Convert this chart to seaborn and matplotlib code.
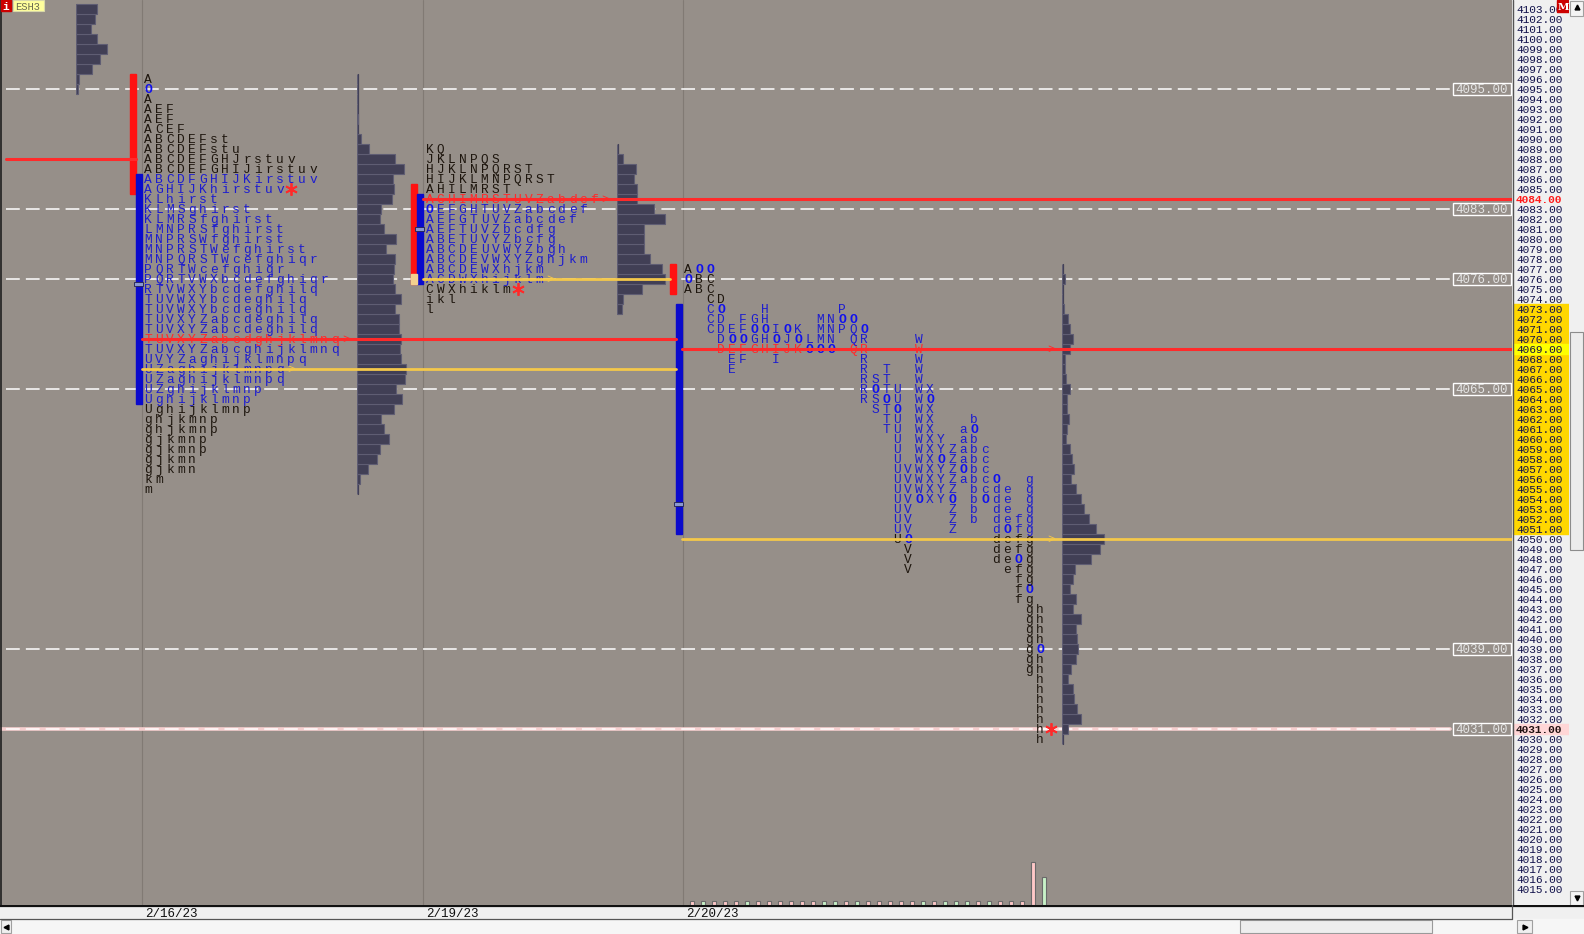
import matplotlib
matplotlib.use("Agg")
import matplotlib.pyplot as plt
import seaborn as sns
import pandas as pd
from matplotlib.patches import Rectangle

sns.set_style("white")
plt.rcParams['font.family'] = ['Liberation Mono', 'DejaVu Sans']

### data
dates = ['2/16/23', '2/19/23', '2/20/23']

# volume profile left over from the previous session (top left), 4103 down
prior_vol_top = 4103
prior_vol = [21, 19, 15, 21, 31, 24, 16, 3, 2]
prior_poc = 4088

# 2/16/23 TPO rows, 4096 down to 4055
p1_top = 4096
p1_rows = ['A', 'O', 'A', 'AEF', 'AEF', 'ACEF', 'ABCDEFst', 'ABCDEFstu',
           'ABCDEFGHJrstuv', 'ABCDEFGHIJirstuv', 'ABCDFGHIJKirstuv',
           'AGHIJKhirstuv', 'KLhirst', 'KLMSghirst', 'KLMRSfghirst',
           'LMNPRSfghirst', 'MNPRSWfghirst', 'MNPRSTWefghirst',
           'MNPQRSTWcefghiqr', 'PQRTWcefghiqr', 'PQRTVWXbcdefghiqr',
           'RTVWXYbcdefghilq', 'TUVWXYbcdeghilq', 'TUVWXYbcdeghilq',
           'TUVXYZabcdeghilq', 'TUVXYZabcdeghilq', 'TUVXYZabcdghjklmnq',
           'TUVXYZabcghijklmnq', 'UVYZaghijklmnpq', 'UZaghijklmnpq',
           'UZaghijklmnpq', 'UZghijklmnp', 'Ughijklmnp', 'Ughijklmnp',
           'ghjkmnp', 'ghjkmnp', 'gjkmnp', 'gjkmnp', 'gjkmn', 'gjkmn', 'km', 'm']
p1_ib = (4096, 4085)
p1_va = (4086, 4064)
p1_poc = 4070
p1_vpoc = 4067
p1_close = 4085
p1_vol = [0, 0, 0, 0, 1, 0, 4, 12, 38, 47, 36, 37, 35, 24, 23, 27, 39, 29, 38, 37,
          36, 38, 44, 38, 42, 42, 44, 43, 44, 49, 48, 39, 45, 37, 24, 27, 32, 23,
          20, 11, 3, 0]

# 2/19/23 TPO rows, 4089 down to 4073
p2_top = 4089
p2_rows = ['KQ', 'JKLNPQS', 'HJKLNPQRST', 'HIJKLMNPQRST', 'AHILMRST',
           'ACHIMRSTUVZabdef', 'OEFGHTUVZabcdef', 'AEFGTUVZabcdef',
           'AEFTUVZbcdfg', 'ABETUVYZbcfg', 'ABCDEUVWYZbgh', 'ABCDEVWXYZghjkm',
           'ABCDEWXhjkm', 'ACDWXhijklm', 'CWXhiklm', 'ikl', 'l']
p2_ib = (4085, 4076)
p2_va = (4084, 4076)
p2_poc = 4084
p2_vpoc = 4076
p2_close = 4075
p2_vol = [0, 6, 19, 17, 20, 20, 37, 48, 27, 27, 27, 33, 45, 48, 25, 6, 5]

# 2/20/23 split profile: one column per period (high, low, open)
p3_letters = ['A', 'B', 'C', 'D', 'E', 'F', 'G', 'H', 'I', 'J', 'K', 'L', 'M', 'N',
              'P', 'Q', 'R', 'S', 'T', 'U', 'V', 'W', 'X', 'Y', 'Z',
              'a', 'b', 'c', 'd', 'e', 'f', 'g', 'h']
p3_high = [4077, 4077, 4077, 4074, 4071, 4072, 4072, 4073, 4071, 4071, 4071, 4070,
           4072, 4072, 4073, 4072, 4071, 4066, 4067, 4065, 4057, 4070, 4065, 4060,
           4059, 4061, 4062, 4059, 4056, 4055, 4052, 4056, 4043]
p3_low = [4075, 4075, 4071, 4069, 4067, 4068, 4069, 4069, 4068, 4069, 4069, 4069,
          4069, 4069, 4071, 4069, 4064, 4063, 4061, 4050, 4047, 4054, 4054, 4054,
          4051, 4056, 4052, 4054, 4048, 4047, 4044, 4037, 4030]
p3_open = [4076, 4077, 4077, 4073, 4070, 4070, 4071, 4071, 4070, 4071, 4070, 4069,
           4069, 4069, 4072, 4072, 4071, 4065, 4064, 4063, 4050, 4054, 4064, 4058,
           4054, 4057, 4061, 4054, 4056, 4051, 4048, 4045, 4039]
p3_ib = (4077, 4075)
p3_va = (4073, 4051)
p3_poc = 4069
p3_vpoc = 4050
p3_close = 4031
p3_vol_top = 4077
p3_vol = [0, 3, 0, 0, 2, 6, 8, 11, 8, 3, 3, 4, 8, 5, 5, 7, 5, 4, 8, 10, 12, 9, 14,
          19, 22, 27, 34, 42, 38, 29, 13, 11, 8, 14, 11, 19, 14, 15, 16, 14, 9, 6,
          11, 12, 15, 19, 6, 0]

# per-period volume of 2/20/23 and whether the period closed up
period_vol = [4, 4, 4, 4, 4, 4, 4, 4, 4, 4, 4, 4, 4, 4, 4, 4, 4, 4, 4, 4, 4, 4,
              4, 4, 4, 4, 4, 4, 4, 4, 4, 43, 28]
period_up = [0, 1, 0, 0, 0, 1, 0, 0, 0, 0, 0, 0, 1, 1, 0, 1, 0, 0, 0, 0, 0, 1,
             0, 1, 1, 1, 0, 1, 0, 0, 0, 0, 1]

ref_levels = [4095, 4083, 4076, 4065, 4039, 4031]
axis_prices = list(range(4015, 4104))

### style
BG = '#968f89'
HIST_FC = '#413f55'
HIST_EC = '#5f5d73'
DARK_TXT = '#1e160e'
BLUE_TXT = '#1c1cd0'
OPEN_BLUE = '#1010ee'
RED = '#ff2a2a'
YEL = '#f4c84a'
LET_FS = 9.3

W, H = 1584, 934
YHI = 4103.93
YLO = YHI - 90.5


def frame(x0, y0, x1, y1):
    return [x0 / W, 1 - y1 / H, (x1 - x0) / W, (y1 - y0) / H]


fig = plt.figure(figsize=(W / 100, H / 100), dpi=100, facecolor='#f0f0f0')
ax = fig.add_axes(frame(0, 0, 1512, 905))
ax.set_facecolor(BG)
ax.set_xlim(0, 1512)
ax.set_ylim(YLO, YHI)
ax.set_xticks([])
ax.set_yticks([])
for s in ax.spines.values():
    s.set_visible(False)
ax.axvline(0.5, color='#202020', lw=1.2)

# day separators
for xs in [142, 423, 683]:
    ax.axvline(xs, color='#817a74', lw=0.8, zorder=0.5)

# reference levels with boxed labels
for lv in ref_levels:
    if lv == p3_close:
        ax.plot([0, 1450], [lv, lv], color='#f6cfcf', lw=2.6, zorder=1)
    ax.plot([6, 1450], [lv, lv], color='white', lw=1.1, ls=(0, (9, 4)), zorder=1.1)
    ax.add_patch(Rectangle((1452.5, lv - 0.6), 58, 1.2, fill=False, ec='white', lw=1, zorder=2))
    ax.text(1481.5, lv - 0.38, f'{lv}.00', color='#e4e4e4', fontsize=9, ha='center',
            va='baseline', zorder=2)


def tpo_color(p, va, poc):
    if p == poc:
        return RED
    if va[1] <= p <= va[0]:
        return BLUE_TXT
    return DARK_TXT


def put_letter(x, p, ch, color):
    if ch == 'O':
        ax.text(x, p - 0.41, 'O', color=OPEN_BLUE, fontsize=LET_FS, fontweight='bold',
                ha='center', va='baseline', zorder=3)
    else:
        ax.text(x, p - 0.41, ch, color=color, fontsize=LET_FS, ha='center',
                va='baseline', zorder=3)


def put_marks(x, p, poc, vpoc, close):
    if p == poc:
        ax.text(x, p - 0.41, '>', color=RED, fontsize=LET_FS, ha='center', va='baseline', zorder=7)
    if p == vpoc:
        ax.text(x, p - 0.41, '>', color=YEL, fontsize=LET_FS, ha='center', va='baseline', zorder=7)
    if p == close:
        ax.plot(x, p, marker=(6, 2, 0), ms=9, mew=1.3, color=RED, zorder=7)


def row_profile(x_first, top, rows, va, poc, vpoc, close):
    for i, s in enumerate(rows):
        p = top - i
        for j, ch in enumerate(s):
            put_letter(x_first + 11 * j, p, ch, tpo_color(p, va, poc))
        put_marks(x_first + 11 * len(s), p, poc, vpoc, close)


def side_bars(x_ib, ib, va, vpoc, mid):
    ax.add_patch(Rectangle((x_ib, ib[1] - 0.5), 6, ib[0] - ib[1] + 1, color='#ff1212', zorder=4))
    if ib[1] <= vpoc <= ib[0]:
        ax.add_patch(Rectangle((x_ib, vpoc - 0.5), 6, 1, color='#f3d08f', zorder=4.1))
    ax.add_patch(Rectangle((x_ib + 6, va[1] - 0.5), 6, va[0] - va[1] + 1, color='#0a0acc', zorder=4))
    ax.add_patch(Rectangle((x_ib + 4, mid - 0.18), 8.5, 0.36, fc='#8a98d0', ec='#202050',
                           lw=0.6, zorder=4.2))


def vol_profile(x0, top, vols):
    prices = [top - i for i in range(len(vols))]
    df = pd.DataFrame({'price': prices, 'vol': vols})
    ins = ax.inset_axes([x0, YLO, 100, YHI - YLO], transform=ax.transData, zorder=4)
    sns.histplot(data=df, y='price', weights='vol', discrete=True, ax=ins,
                 color=HIST_FC, edgecolor=HIST_EC, linewidth=0.8, alpha=1)
    ins.set_xlim(0, 100)
    ins.set_ylim(YLO, YHI)
    ins.axis('off')
    ax.plot([x0 + 0.5, x0 + 0.5], [prices[-1] - 0.5, top + 0.5], color=HIST_FC, lw=0.9, zorder=4)


# profile 1 (2/16/23)
row_profile(148, p1_top, p1_rows, p1_va, p1_poc, p1_vpoc, p1_close)
side_bars(130, p1_ib, p1_va, p1_vpoc, (p1_top + p1_top - len(p1_rows) + 1) / 2)
vol_profile(76, prior_vol_top, prior_vol)
vol_profile(357, p1_top, p1_vol)
ax.plot([6, 136], [prior_poc, prior_poc], color=RED, lw=2.2, zorder=6)
ax.plot([142, 676], [p1_poc, p1_poc], color=RED, lw=2.2, zorder=6)
ax.plot([142, 676], [p1_vpoc, p1_vpoc], color=YEL, lw=2.0, zorder=6)

# profile 2 (2/19/23)
row_profile(429.5, p2_top, p2_rows, p2_va, p2_poc, p2_vpoc, p2_close)
side_bars(411, p2_ib, p2_va, p2_vpoc, (p2_top + p2_top - len(p2_rows) + 1) / 2)
vol_profile(617, p2_top, p2_vol)
ax.plot([423, 1512], [p2_poc, p2_poc], color=RED, lw=2.2, zorder=6)
ax.plot([423, 670], [p2_vpoc, p2_vpoc], color=YEL, lw=2.0, zorder=6)

# profile 3 (2/20/23)
for k, (ch, hi, lo, op) in enumerate(zip(p3_letters, p3_high, p3_low, p3_open)):
    for p in range(lo, hi + 1):
        put_letter(688 + 11 * k, p, 'O' if p == op else ch, tpo_color(p, p3_va, p3_poc))
x_end = 688 + 11 * len(p3_letters)
for p in [p3_poc, p3_vpoc, p3_close]:
    put_marks(x_end, p, p3_poc, p3_vpoc, p3_close)
side_bars(670, p3_ib, p3_va, p3_vpoc, (max(p3_high) + min(p3_low)) / 2)
vol_profile(1062, p3_vol_top, p3_vol)
ax.plot([682, 1512], [p3_poc, p3_poc], color=RED, lw=2.2, zorder=6)
ax.plot([682, 1512], [p3_vpoc, p3_vpoc], color=YEL, lw=2.0, zorder=6)

# period volume bars at the bottom
for k, (v, up) in enumerate(zip(period_vol, period_up)):
    ax.bar(692 + 11 * k, v / 10, bottom=YLO, width=3.2,
           color='#c8f2c8' if up else '#ffc8c8', edgecolor='#6a6a6a', lw=0.8, zorder=3)

# top-left symbol tags
ax.add_patch(Rectangle((1, YHI - 1.1), 10, 1.1, color='#cc0000', zorder=8))
ax.text(6, YHI - 0.95, 'i', color='white', fontsize=8, fontweight='bold', ha='center',
        va='baseline', zorder=9)
ax.add_patch(Rectangle((13, YHI - 1.1), 30.5, 1.1, fc='#ffff9c', ec='#d8d8a8', lw=0.8, zorder=8))
ax.text(28, YHI - 0.95, 'ESH3', color='#6a6a50', fontsize=7.5, ha='center', va='baseline', zorder=9)

# price axis panel
axr = fig.add_axes(frame(1512, 0, 1569, 905))
axr.set_facecolor('#f0f0f0')
axr.set_xlim(1512, 1569)
axr.set_ylim(YLO, YHI)
axr.set_xticks([])
axr.set_yticks([])
for s in axr.spines.values():
    s.set_visible(False)
axr.axvline(1512.5, color='#555555', lw=1)
axr.axhspan(p3_va[1] - 0.5, p3_va[0] + 0.5, xmin=0.02, color='#ffd700')
axr.axhspan(p3_poc - 0.5, p3_poc + 0.5, xmin=0.02, color='#ffff00')
axr.axhspan(p3_close - 0.5, p3_close + 0.5, xmin=0.02, color='#ffd6d6')
for p in axis_prices:
    if p == p2_poc:
        c, wt = '#ff1a1a', 'bold'
    elif p == p3_close:
        c, wt = '#201010', 'bold'
    else:
        c, wt = '#10104a', 'normal'
    axr.text(1516, p - 0.34, f'{p}.00', color=c, fontweight=wt, fontsize=8,
             ha='left', va='baseline')
axr.add_patch(Rectangle((1557, YHI - 1.2), 12, 1.2, color='#cc0000', zorder=5))
axr.text(1563, YHI - 1.0, 'M', color='white', fontsize=7.5, fontweight='bold',
         family='DejaVu Serif', ha='center', va='baseline', zorder=6)

# vertical scrollbar
axs = fig.add_axes(frame(1569, 0, 1584, 905))
axs.set_facecolor('#f0f0f0')
axs.set_xlim(1569, 1584)
axs.set_ylim(905, 0)
axs.axis('off')
axs.add_patch(Rectangle((1569, 0), 15, 905, color='#f0f0f0'))
axs.add_patch(Rectangle((1570, 0.5), 13, 15, fc='#f4f4f4', ec='#a0a0a0', lw=0.8))
axs.add_patch(Rectangle((1570, 332), 13, 218, fc='#ececec', ec='#8c8c8c', lw=0.8))
axs.add_patch(Rectangle((1570, 891), 13, 13.5, fc='#f4f4f4', ec='#a0a0a0', lw=0.8))
axs.plot(1576.5, 7, marker='^', ms=3.5, color='black')
axs.plot(1576.5, 898, marker='v', ms=3.5, color='black')

# date strip and bottom scrollbar
axb = fig.add_axes(frame(0, 905, 1584, 934))
axb.set_xlim(0, 1584)
axb.set_ylim(934, 905)
axb.axis('off')
axb.add_patch(Rectangle((0, 905), 1584, 29, color='#f0f0f0'))
axb.add_patch(Rectangle((0, 919), 1584, 15, color='#f6f6f6'))
axb.plot([0, 1584], [905.8, 905.8], color='#111111', lw=1.6)
axb.plot([0, 1512], [919, 919], color='#555555', lw=0.9)
axb.plot([1512, 1512], [905, 919], color='#555555', lw=0.9)
for xd, d in zip([145, 426, 686], dates):
    axb.text(xd, 917, d, color='#101010', fontsize=9, ha='left', va='baseline')
axb.add_patch(Rectangle((0.5, 920), 10, 13, fc='#f0f0f0', ec='#a0a0a0', lw=0.8))
axb.plot(5.5, 926.5, marker='<', ms=3.5, color='black')
axb.add_patch(Rectangle((1240, 920), 192, 13, fc='#eeeeee', ec='#9a9a9a', lw=0.8))
axb.add_patch(Rectangle((1517, 920), 15, 13, fc='#f0f0f0', ec='#a0a0a0', lw=0.8))
axb.plot(1524.5, 926.5, marker='>', ms=3.5, color='black')

fig.savefig('out.png', dpi=100, facecolor=fig.get_facecolor())
